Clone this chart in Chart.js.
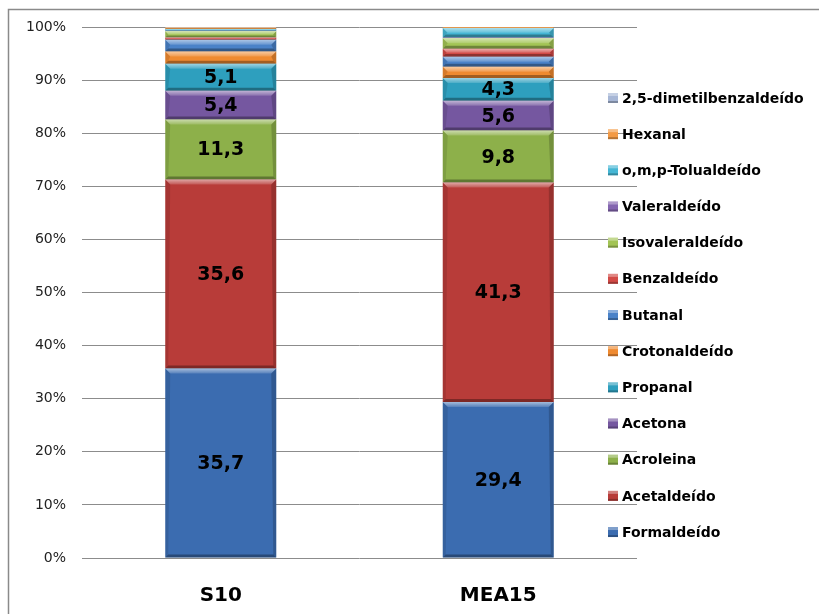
<!DOCTYPE html>
<html>
<head>
<meta charset="utf-8">
<script src="https://cdn.jsdelivr.net/npm/chart.js@4.4.1/dist/chart.umd.min.js"></script>
<style>
  html, body { margin: 0; padding: 0; background: #fff; }
</style>
</head>
<body>
<canvas id="aldeidosChart" width="819" height="614"></canvas>
<script>
// Samples on the x axis
const samples = ['S10', 'MEA15'];

// Carbonyl compounds, bottom of the stack first
const compounds = [
  'Formaldeído', 'Acetaldeído', 'Acroleina', 'Acetona', 'Propanal',
  'Crotonaldeído', 'Butanal', 'Benzaldeído', 'Isovaleraldeído',
  'Valeraldeído', 'o,m,p-Tolualdeído', 'Hexanal', '2,5-dimetilbenzaldeído'
];

// Share of each compound (%), same order as compounds
const s10Values   = [35.7, 35.6, 11.3, 5.4, 5.1, 2.3, 2.2, 0.4, 1.2, 0.1, 0.3, 0.3, 0.1];
const mea15Values = [29.4, 41.3, 9.8, 5.6, 4.3, 2.1, 1.9, 1.5, 2.0, 0.1, 1.8, 0.2, 0.0];

const yTicks = [0, 10, 20, 30, 40, 50, 60, 70, 80, 90, 100];

// only the big segments get a value label
const labelledCount = 5;

const colors = [
  '#3b6cb0', '#b83c39', '#8db04a', '#7557a0', '#2e9fbe', '#ef8a30',
  '#4a82c8', '#d24a46', '#a3c455', '#8466b0', '#45b6d4', '#f39a45', '#a7b7d6'
];

const datasets = compounds.map((name, i) => ({
  label: name,
  data: [s10Values[i], mea15Values[i]],
  backgroundColor: colors[i],
  borderWidth: 0,
  barPercentage: 0.4,
  categoryPercentage: 1.0
}));

// outer frame of the chart object
const framePlugin = {
  id: 'frame',
  beforeDraw(chart) {
    const ctx = chart.ctx;
    ctx.save();
    ctx.strokeStyle = '#8a8a8a';
    ctx.lineWidth = 1.5;
    ctx.beginPath();
    ctx.moveTo(8.5, 614);
    ctx.lineTo(8.5, 9.5);
    ctx.lineTo(819, 9.5);
    ctx.stroke();
    ctx.restore();
  }
};

// bevelled look on every segment, then the value labels
const bevelPlugin = {
  id: 'bevel',
  afterDatasetsDraw(chart) {
    const ctx = chart.ctx;
    ctx.save();
    chart.data.datasets.forEach((ds, di) => {
      const meta = chart.getDatasetMeta(di);
      meta.data.forEach((bar) => {
        const l = bar.x - bar.width / 2, r = bar.x + bar.width / 2;
        const t = Math.min(bar.y, bar.base), b = Math.max(bar.y, bar.base);
        const h = b - t;
        if (h < 0.8) return;
        const bt = Math.min(5, h / 2), bb = Math.min(3, h / 3);
        // top highlight
        const g = ctx.createLinearGradient(0, t, 0, t + bt);
        g.addColorStop(0, 'rgba(255,255,255,0.55)');
        g.addColorStop(1, 'rgba(255,255,255,0.15)');
        ctx.fillStyle = g;
        ctx.beginPath();
        ctx.moveTo(l, t); ctx.lineTo(r, t); ctx.lineTo(r - bt, t + bt); ctx.lineTo(l + bt, t + bt);
        ctx.closePath(); ctx.fill();
        // right shade
        ctx.fillStyle = 'rgba(0,0,0,0.18)';
        ctx.beginPath();
        ctx.moveTo(r, t); ctx.lineTo(r, b); ctx.lineTo(r - bb, b - bb); ctx.lineTo(r - bt, t + bt);
        ctx.closePath(); ctx.fill();
        // left shade
        ctx.fillStyle = 'rgba(0,0,0,0.1)';
        ctx.beginPath();
        ctx.moveTo(l, t); ctx.lineTo(l + bt, t + bt); ctx.lineTo(l + bb, b - bb); ctx.lineTo(l, b);
        ctx.closePath(); ctx.fill();
        // bottom shade
        ctx.fillStyle = 'rgba(0,0,0,0.32)';
        ctx.beginPath();
        ctx.moveTo(l, b); ctx.lineTo(r, b); ctx.lineTo(r - bb, b - bb); ctx.lineTo(l + bb, b - bb);
        ctx.closePath(); ctx.fill();
      });
    });

    ctx.fillStyle = '#000';
    ctx.font = 'bold 19px "DejaVu Sans"';
    ctx.textAlign = 'center';
    ctx.textBaseline = 'middle';
    chart.data.datasets.forEach((ds, di) => {
      if (di >= labelledCount) return;
      chart.getDatasetMeta(di).data.forEach((bar, j) => {
        const txt = ds.data[j].toFixed(1).replace('.', ',');
        ctx.fillText(txt, bar.x, (bar.y + bar.base) / 2 + 1);
      });
    });
    ctx.restore();
  }
};

// legend on the right, top series first
const legendPlugin = {
  id: 'sideLegend',
  afterDraw(chart) {
    const ctx = chart.ctx;
    const items = chart.data.datasets.slice().reverse();
    ctx.save();
    ctx.font = 'bold 14px "DejaVu Sans"';
    ctx.textBaseline = 'middle';
    ctx.textAlign = 'left';
    items.forEach((ds, k) => {
      const y = 98 + k * 36.17;
      ctx.fillStyle = ds.backgroundColor;
      ctx.fillRect(608, y - 5, 10, 10);
      ctx.fillStyle = 'rgba(255,255,255,0.35)';
      ctx.fillRect(608, y - 5, 10, 3);
      ctx.fillStyle = 'rgba(0,0,0,0.25)';
      ctx.fillRect(608, y + 3, 10, 2);
      ctx.fillStyle = '#000';
      ctx.fillText(ds.label, 622, y + 1);
    });
    ctx.restore();
  }
};

new Chart(document.getElementById('aldeidosChart'), {
  type: 'bar',
  data: { labels: samples, datasets: datasets },
  options: {
    responsive: false,
    animation: false,
    layout: { padding: { top: 27, right: 182, bottom: 0, left: 0 } },
    plugins: {
      legend: { display: false },
      tooltip: { enabled: false }
    },
    scales: {
      x: {
        stacked: true,
        grid: { display: false },
        border: { display: false },
        ticks: {
          color: '#000',
          padding: 18,
          font: { family: 'DejaVu Sans', size: 20, weight: 'bold' }
        },
        afterFit: (s) => { s.height = 56; }
      },
      y: {
        stacked: true,
        min: 0,
        max: 100,
        afterBuildTicks: (s) => { s.ticks = yTicks.map(v => ({ value: v })); },
        grid: { color: '#8c8c8c', drawTicks: false },
        border: { display: false },
        ticks: {
          color: '#222',
          padding: 16,
          font: { family: 'DejaVu Sans', size: 14 },
          callback: (v) => v + '%'
        },
        afterFit: (s) => { s.width = 82; }
      }
    }
  },
  plugins: [framePlugin, bevelPlugin, legendPlugin]
});
</script>
</body>
</html>
